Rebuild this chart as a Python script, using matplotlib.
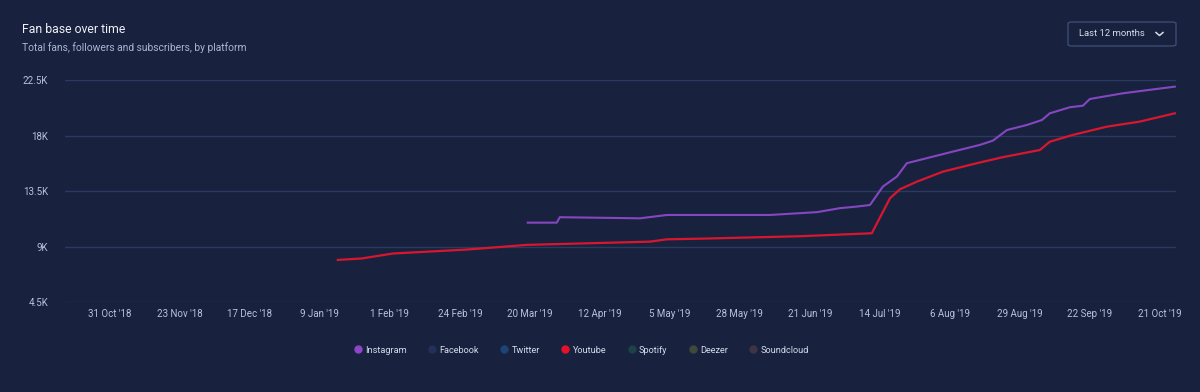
import numpy as np
import matplotlib
matplotlib.use('Agg')
import matplotlib.pyplot as plt
from matplotlib.lines import Line2D
from matplotlib.patches import FancyBboxPatch

plt.rcParams['font.family'] = ['Roboto', 'DejaVu Sans']

# days counted from 31 Oct '18 (axis ticks are evenly spaced)
tick_labels = ["31 Oct '18", "23 Nov '18", "17 Dec '18", "9 Jan '19", "1 Feb '19",
               "24 Feb '19", "20 Mar '19", "12 Apr '19", "5 May '19", "28 May '19",
               "21 Jun '19", "14 Jul '19", "6 Aug '19", "29 Aug '19", "22 Sep '19",
               "21 Oct '19"]
tick_step = 23.4

youtube_day = [76.2, 84.2, 94.6, 119.3, 139.4, 180.5, 186.2, 197.2, 230.7, 254.7,
               260.8, 264.1, 269.8, 278.5, 289.8, 298.5, 310.9, 314.2, 321.9,
               333.3, 344.3, 356.0]
youtube_fans = [7930, 8050, 8450, 8770, 9150, 9410, 9600, 9650, 9850, 10090,
                12930, 13650, 14270, 15080, 15760, 16250, 16830, 17500, 18050,
                18720, 19130, 19800]

instagram_day = [139.7, 149.4, 150.4, 177.2, 186.2, 220.6, 236.4, 244.0, 249.7,
                 254.1, 258.4, 263.1, 266.4, 273.1, 281.8, 290.8, 295.2, 299.9,
                 306.6, 311.6, 314.2, 320.9, 325.3, 327.6, 338.6, 356.0]
instagram_fans = [10950, 10950, 11390, 11300, 11570, 11570, 11800, 12120, 12250,
                  12380, 13870, 14680, 15760, 16170, 16700, 17240, 17590, 18450,
                  18860, 19260, 19800, 20290, 20420, 20960, 21420, 21960]

y_ticks = [4500, 9000, 13500, 18000, 22500]
y_labels = ['4.5K', '9K', '13.5K', '18K', '22.5K']

platforms = ['Instagram', 'Facebook', 'Twitter', 'Youtube', 'Spotify', 'Deezer', 'Soundcloud']
platform_colors = ['#8e45c9', '#233159', '#1d4474', '#e8112a', '#1d4245', '#3f4a3c', '#3d3444']

BG = '#18223f'
GRID = '#2c3a61'
TICK = '#b9c2da'

fig = plt.figure(figsize=(12, 3.92), dpi=100, facecolor=BG)
ax = fig.add_axes([0.0542, 0.2288, 0.9258, 0.5672])
ax.set_facecolor(BG)

ax.plot(youtube_day, youtube_fans, color='#d8172f', linewidth=1.6, zorder=3)
ax.plot(instagram_day, instagram_fans, color='#8547c0', linewidth=1.5, zorder=3)

ax.set_xlim(-15.0, 356.4)
ax.set_ylim(4500, 22500)
ax.set_yticks(y_ticks)
ax.set_yticklabels(y_labels)
ax.set_xticks(np.arange(len(tick_labels)) * tick_step)
ax.set_xticklabels(tick_labels)
ax.tick_params(axis='both', length=0, colors=TICK, labelsize=7)
ax.tick_params(axis='y', pad=12)
ax.tick_params(axis='x', pad=5)
ax.grid(axis='y', color=GRID, linewidth=1.0)
ax.set_axisbelow(True)
for side in ['top', 'right', 'left', 'bottom']:
  ax.spines[side].set_visible(False)

fig.text(0.0183, 0.926, 'Fan base over time', color='#eef0f5', fontsize=8.8,
         va='center', ha='left')
fig.text(0.0183, 0.878, 'Total fans, followers and subscribers, by platform',
         color='#a9b5d3', fontsize=7.4, va='center', ha='left')

# period selector
box = FancyBboxPatch((1068 / 1200, 1 - 46 / 392), 108 / 1200, 24 / 392,
                     boxstyle='round,pad=0,rounding_size=0.004',
                     transform=fig.transFigure, facecolor=BG,
                     edgecolor='#3d4b74', linewidth=1.0)
fig.patches.append(box)
fig.text(1112 / 1200, 1 - 34 / 392, 'Last 12 months', color='#d5dbea',
         fontsize=6.8, ha='center', va='center')
fig.lines.append(Line2D([1156 / 1200, 1159.5 / 1200, 1163 / 1200],
                        [1 - 32.5 / 392, 1 - 35.5 / 392, 1 - 32.5 / 392],
                        transform=fig.transFigure, color='#d5dbea', linewidth=1.1))

handles = [Line2D([], [], linestyle='none', marker='o', markersize=5,
                  markerfacecolor=c, markeredgecolor=c) for c in platform_colors]
leg = fig.legend(handles, platforms, loc='center', bbox_to_anchor=(0.485, 0.107),
                 ncol=len(platforms), frameon=False, fontsize=6.6,
                 handlelength=0.6, handletextpad=0.5, columnspacing=2.45)
for t in leg.get_texts():
  t.set_color('#d5dbea')

fig.savefig('out.png', dpi=100, facecolor=BG)
